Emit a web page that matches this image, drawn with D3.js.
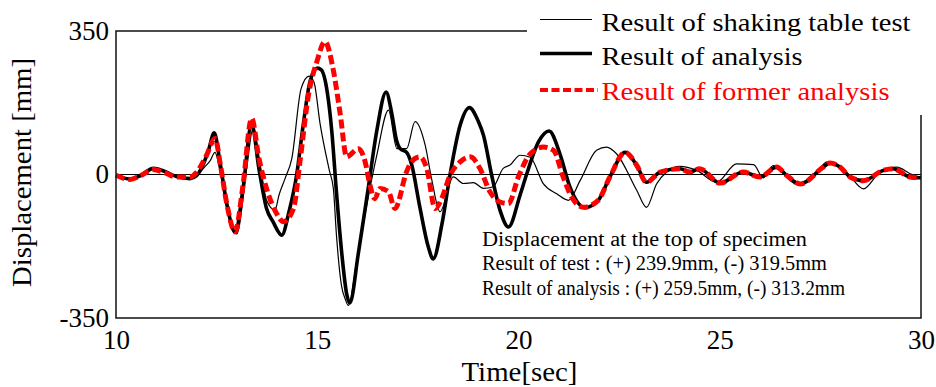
<!DOCTYPE html>
<html>
<head>
<meta charset="utf-8">
<script src="https://cdn.jsdelivr.net/npm/d3@7"></script>
<style>
  html, body { margin: 0; padding: 0; background: #fff; }
  svg { display: block; }
  text { font-family: "Times New Roman", "Liberation Serif", serif; fill: #000; }
</style>
</head>
<body>
<svg id="chart" width="936" height="387"></svg>
<script>
// Displacement time histories at the top of the specimen [mm]
const testTime = [10.0,10.35,10.6,10.93,11.2,11.5,11.84,12.0,12.2,12.34,12.46,12.58,12.75,13.0,13.25,13.41,13.58,13.74,13.95,14.05,14.2,14.37,14.6,14.8,14.92,15.07,15.3,15.4,15.48,15.6,15.7,15.77,15.98,16.23,16.48,16.77,16.98,17.22,17.43,17.68,17.84,18.05,18.38,18.63,18.88,19.13,19.37,19.62,19.79,20.04,20.29,20.62,20.95,21.24,21.53,21.94,22.19,22.44,22.94,23.18,23.43,23.68,24.0,24.43,24.92,25.42,25.84,26.08,26.33,26.91,27.41,27.66,27.95,28.2,28.57,28.98,29.4,29.73,30.0];
const testDisp = [-2,-10,-3,14,8,-5,-9,-2,18,34,54,10,-80,-145,18,115,26,-63,-87,-50,-10,40,210,239.9,225,124,10,-34,-152,-270,-305,-319.5,-213,-75,47,157,63,63,129,72,-10,-91,-6,-22,-20,-34,-30,15,23,47,42,-23,-47,-63,-15,59,67,50,-39,-80,-23,6,20,10,-19,26,24,-8,22,-24,6,30,20,0,-35,6,18,2,-8];

const analysisTime = [10.0,10.35,10.6,10.93,11.2,11.5,11.84,12.0,12.16,12.3,12.44,12.58,12.75,12.96,13.15,13.37,13.55,13.74,13.9,14.12,14.3,14.49,14.65,14.82,15.0,15.1,15.25,15.36,15.48,15.61,15.73,15.81,16.02,16.27,16.48,16.71,16.85,16.97,17.06,17.22,17.34,17.55,17.76,17.88,18.1,18.3,18.55,18.78,19.0,19.13,19.33,19.55,19.75,20.04,20.2,20.5,20.76,21.03,21.28,21.65,21.98,22.27,22.65,22.94,23.18,23.52,24.01,24.26,24.5,25.01,25.58,26.0,26.41,26.66,27.0,27.57,27.74,27.99,28.24,28.57,29.06,29.3,29.73,30.0];
const analysisDisp = [-2,-11,-3,15,8,-5,-10,-3,23,60,102,32,-70,-141,-40,124,15,-83,-115,-148,-90,0,120,227,259.5,255,200,107,-47,-193,-291,-313.2,-193,-31,107,201,150,83,63,54,26,-80,-177,-206,-120,0,120,163,130,96,0,-90,-128,-50,0,80,106,50,-31,-81,-63,-6,54,22,-19,6,14,6,14,-21,6,-6,18,-2,-23,18,28,18,-6,-15,10,14,-6,-8];

const formerTime = [10.0,10.35,10.6,10.93,11.2,11.5,11.84,12.0,12.25,12.46,12.6,12.75,12.96,13.15,13.37,13.55,13.74,13.99,14.16,14.41,14.57,14.78,14.99,15.19,15.4,15.57,15.73,16.02,16.19,16.31,16.43,16.56,16.77,16.93,17.22,17.34,17.55,17.72,17.93,18.09,18.3,18.55,18.8,19.04,19.29,19.54,19.75,20.0,20.29,20.62,20.87,21.11,21.32,21.61,21.98,22.27,22.65,22.94,23.18,23.52,24.01,24.26,24.5,25.01,25.58,26.0,26.41,26.66,27.0,27.57,27.74,27.99,28.24,28.57,29.06,29.3,29.73,30.0];
const formerDisp = [-2,-12,-3,12,5,-6,-6,5,47,88,20,-70,-140,-30,137,40,-34,-95,-115,-83,31,193,275,324,254,148,43,63,31,-26,-59,-34,-42,-83,7,31,43,15,-83,-59,-2,31,43,15,-42,-67,-71,-5,50,67,59,-6,-55,-80,-63,-6,54,22,-19,6,14,6,14,-21,6,-6,18,-2,-23,18,28,18,-6,-15,10,14,-6,-8];

const xTicks = [10, 15, 20, 25, 30];
const yTicks = [-350, 0, 350];
const legendLabels = ["Result of shaking table test", "Result of analysis", "Result of former analysis"];
const noteLines = [
  "Displacement at the top of specimen",
  "Result of test : (+) 239.9mm, (-) 319.5mm",
  "Result of analysis : (+) 259.5mm, (-) 313.2mm"
];

const svg = d3.select("#chart");
const plotLeft = 116, plotRight = 921, plotTop = 31, plotBottom = 318;
const serif = "'Times New Roman', 'Liberation Serif', serif";

const x = d3.scaleLinear().domain([10, 30]).range([plotLeft, plotRight]);
const y = d3.scaleLinear().domain([-350, 350]).range([plotBottom, plotTop]);

// zero line
svg.append("line")
  .attr("x1", plotLeft).attr("x2", plotRight)
  .attr("y1", y(0)).attr("y2", y(0))
  .attr("stroke", "#000").attr("stroke-width", 1);

const line = d3.line()
  .x(d => x(d[0])).y(d => y(d[1]))
  .curve(d3.curveMonotoneX);

const zip = (ts, vs) => ts.map((t, i) => [t, vs[i]]);

svg.append("path").datum(zip(testTime, testDisp))
  .attr("d", line).attr("fill", "none")
  .attr("stroke", "#000").attr("stroke-width", 1.2);

svg.append("path").datum(zip(analysisTime, analysisDisp))
  .attr("d", line).attr("fill", "none")
  .attr("stroke", "#000").attr("stroke-width", 3.6)
  .attr("stroke-linejoin", "round");

svg.append("path").datum(zip(formerTime, formerDisp))
  .attr("d", line).attr("fill", "none")
  .attr("stroke", "#ff0000").attr("stroke-width", 5)
  .attr("stroke-dasharray", "9,4");

// plot frame
svg.append("rect")
  .attr("x", plotLeft).attr("y", plotTop)
  .attr("width", plotRight - plotLeft).attr("height", plotBottom - plotTop)
  .attr("fill", "none").attr("stroke", "#111").attr("stroke-width", 1.5);

// axes (labels only, no tick marks); plain hyphen for negatives
const plainFormat = d => String(d);

const xAxis = svg.append("g")
  .attr("transform", `translate(0,${plotBottom})`)
  .call(d3.axisBottom(x).tickValues(xTicks).tickSize(0).tickPadding(0).tickFormat(plainFormat));
xAxis.select(".domain").remove();
xAxis.selectAll("text")
  .attr("y", 31).attr("dy", 0)
  .style("font-size", "27px")
  .style("font-family", serif)
  .style("fill", "#000");

const yAxis = svg.append("g")
  .attr("transform", `translate(${plotLeft},0)`)
  .call(d3.axisLeft(y).tickValues(yTicks).tickSize(0).tickPadding(0).tickFormat(plainFormat));
yAxis.select(".domain").remove();
yAxis.selectAll("text")
  .attr("x", -7).attr("dy", "0.3em")
  .style("font-size", "27px")
  .style("font-family", serif)
  .style("fill", "#000");

// axis titles
svg.append("text")
  .attr("x", (plotLeft + plotRight) / 2 + 1).attr("y", 381)
  .attr("text-anchor", "middle")
  .attr("textLength", 116).attr("lengthAdjust", "spacingAndGlyphs")
  .style("font-size", "27px")
  .text("Time[sec]");

svg.append("text")
  .attr("transform", `translate(31,${(plotTop + plotBottom) / 2 - 2}) rotate(-90)`)
  .attr("text-anchor", "middle")
  .attr("textLength", 229).attr("lengthAdjust", "spacingAndGlyphs")
  .style("font-size", "28px")
  .text("Displacement [mm]");

// legend
svg.append("rect")
  .attr("x", 527).attr("y", 0).attr("width", 409).attr("height", 115)
  .attr("fill", "#fff");

const legendRows = [
  { y: 19.5, base: 30.5, len: 309, stroke: "#000", width: 1.2, dash: null, x2: 592, color: "#000" },
  { y: 53.5, base: 64.5, len: 201, stroke: "#000", width: 3.4, dash: null, x2: 592, color: "#000" },
  { y: 90, base: 99.5, len: 288, stroke: "#ff0000", width: 4, dash: "8,3.5", x2: 598, color: "#ff0000" }
];
legendRows.forEach((r, i) => {
  svg.append("line")
    .attr("x1", 540).attr("x2", r.x2).attr("y1", r.y).attr("y2", r.y)
    .attr("stroke", r.stroke).attr("stroke-width", r.width)
    .attr("stroke-dasharray", r.dash);
  svg.append("text")
    .attr("x", 601.5).attr("y", r.base)
    .attr("textLength", r.len).attr("lengthAdjust", "spacingAndGlyphs")
    .style("font-size", "26px")
    .style("fill", r.color)
    .text(legendLabels[i]);
});

// peak value note
const noteLayout = [{ base: 245.5, len: 325 }, { base: 270, len: 345 }, { base: 294.5, len: 363 }];
noteLines.forEach((s, i) => {
  svg.append("text")
    .attr("x", 482).attr("y", noteLayout[i].base)
    .attr("textLength", noteLayout[i].len).attr("lengthAdjust", "spacingAndGlyphs")
    .style("font-size", "20px")
    .text(s);
});
</script>
</body>
</html>
